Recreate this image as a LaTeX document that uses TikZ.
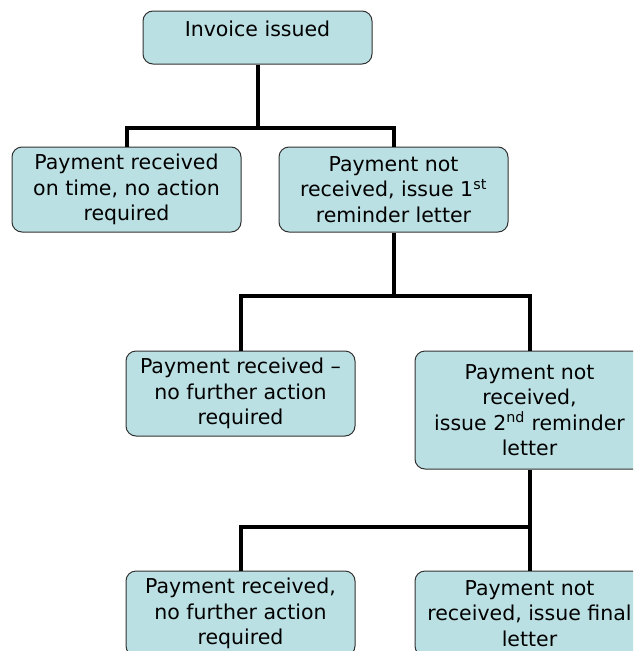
\documentclass[tikz,border=0pt]{standalone}
\usepackage{fontspec}
\setmainfont{DejaVu Sans}
\definecolor{boxblue}{RGB}{187,224,227}
\definecolor{boxline}{RGB}{50,50,50}

\begin{document}
\begin{tikzpicture}[x=1pt,y=-1pt,
	box/.style={draw=boxline, fill=boxblue, rounded corners=10pt, line width=1pt,
		minimum width=229pt, minimum height=85pt, inner sep=0pt, align=center,
		font=\fontsize{20.5}{25.5}\selectfont},
	tree/.style={line width=4pt, line join=miter}]
	\clip (0,0) rectangle (633,651);
	\node[box, minimum height=53pt, text height=25pt, text depth=28pt] (inv) at (257.5,37.5) {Invoice issued};
	\node[box] (ontime) at (126.5,189.5) {Payment received\\on time, no action\\required};
	\node[box] (first) at (393.5,189.5) {Payment not\\received, issue 1\textsuperscript{st}\\reminder letter};
	\node[box] (paidone) at (240.5,393.5) {Payment received --\\no further action\\required};
	\node[box, minimum height=118pt] (second) at (529.5,410) {Payment not\\received,\\issue 2\textsuperscript{nd} reminder\\letter};
	\node[box] (paidtwo) at (240.5,613.5) {Payment received,\\no further action\\required};
	\node[box] (final) at (529.5,613.5) {Payment not\\received, issue final\\letter};
	\coordinate (j1) at (257.5,128);
	\coordinate (j2) at (393.5,296);
	\coordinate (j3) at (529.5,527);
	\draw[tree] (inv) -- (j1);
	\draw[tree] (ontime.north) |- (j1) -| (first.north);
	\draw[tree] (first) -- (j2);
	\draw[tree] (paidone.north) |- (j2) -| (second.north);
	\draw[tree] (second) -- (j3);
	\draw[tree] (paidtwo.north) |- (j3) -- (final.north);
\end{tikzpicture}
\end{document}
